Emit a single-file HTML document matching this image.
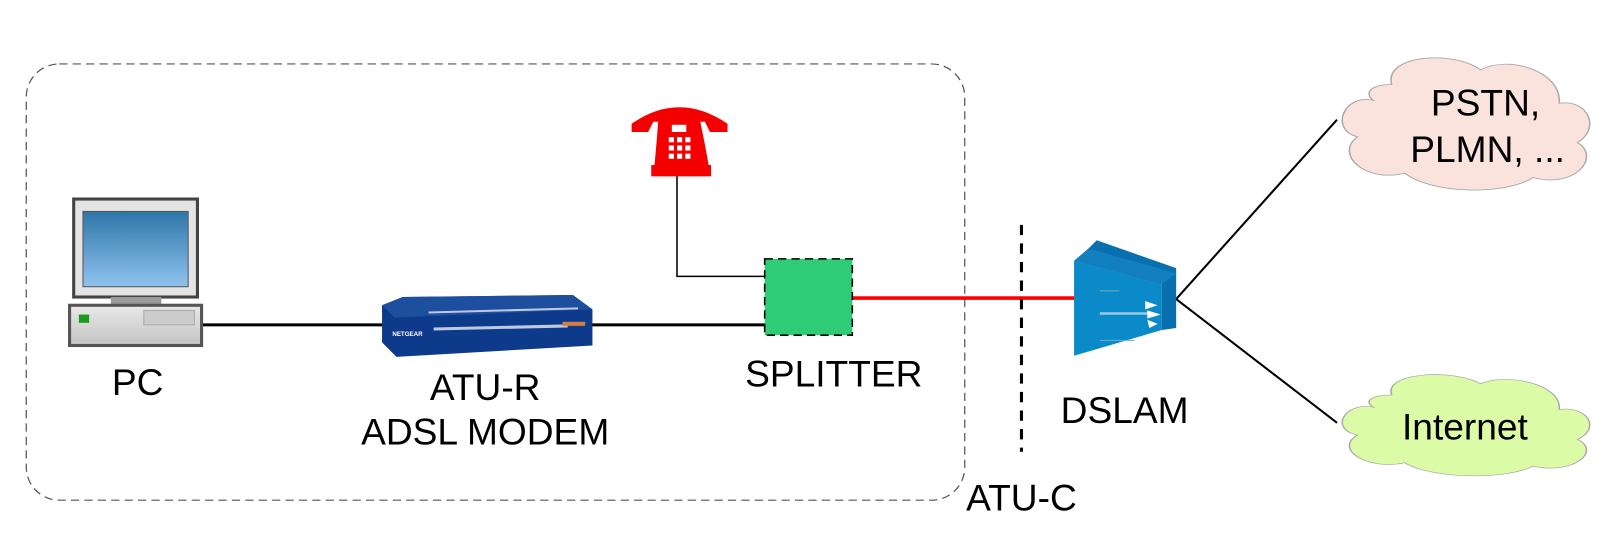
<!DOCTYPE html>
<html><head><meta charset="utf-8"><style>
html,body{margin:0;padding:0;background:#fff;}
svg{display:block;}
text{font-family:"Liberation Sans",Arial,sans-serif;fill:#000;}
</style></head><body>
<svg width="1617" height="560" viewBox="0 0 1567 543" xmlns="http://www.w3.org/2000/svg">
<defs>
<linearGradient id="scr" x1="0" y1="0" x2="0" y2="1"><stop offset="0" stop-color="#2e76a8"/><stop offset="1" stop-color="#8fc3ef"/></linearGradient>
<linearGradient id="box" x1="0" y1="0" x2="0" y2="1"><stop offset="0" stop-color="#e8e8e8"/><stop offset="1" stop-color="#c4c4c4"/></linearGradient>
<path id="cloud" d="M15,35 C4,30 -2,55 9,60 C0,72 12,92 27,85 C38,100 66,100 76,88 C92,96 102,74 93,64 C102,54 97,34 86,37 C87,14 66,4 56,14 C45,0 19,4 22,24 C15,24 11,29 15,35Z"/>
</defs>
<rect x="25" y="62" width="910" height="423" rx="32" fill="none" stroke="#555" stroke-width="1.2" stroke-dasharray="8,5"/>

<line x1="195" y1="315" x2="372" y2="315" stroke="#000" stroke-width="3"/>
<line x1="572" y1="315" x2="742" y2="315" stroke="#000" stroke-width="3"/>
<polyline points="656,170 656,268 742,268" fill="none" stroke="#000" stroke-width="1.5"/>
<line x1="826" y1="289" x2="1043" y2="289" stroke="#f00" stroke-width="3.5"/>
<line x1="990" y1="218" x2="990" y2="438" stroke="#000" stroke-width="3" stroke-dasharray="10,8"/>
<line x1="1140" y1="290" x2="1296" y2="116" stroke="#000" stroke-width="2"/>
<line x1="1140" y1="290" x2="1296" y2="410" stroke="#000" stroke-width="2"/>

<rect x="71" y="193" width="120" height="95" fill="#e4e4e4" stroke="#444" stroke-width="3"/>
<rect x="80" y="205" width="102" height="73" fill="url(#scr)" stroke="#555" stroke-width="1"/>
<rect x="107" y="288" width="49" height="8" fill="#999"/>
<rect x="67" y="296" width="128" height="39" fill="url(#box)" stroke="#555" stroke-width="3"/>
<rect x="76" y="305" width="10" height="8" fill="#1a9a1a"/>
<rect x="139" y="301" width="49" height="14" fill="#ccc" stroke="#aaa"/>

<polygon points="370,296 390,288 555,286 574,300 574,335 384,346 370,332" fill="#0d3a8a"/>
<polygon points="370,296 390,288 555,286 574,300 382,308" fill="#1e4e9e"/>
<line x1="415" y1="303" x2="560" y2="299" stroke="#c0c8e0" stroke-width="2"/>
<line x1="420" y1="319" x2="550" y2="316" stroke="#c0c8e0" stroke-width="3"/>
<text x="380" y="326" font-size="6" style="fill:#fff" font-weight="bold">NETGEAR</text>
<rect x="545" y="312" width="22" height="4" fill="#d08040"/>

<g fill="#f50000">
<path d="M612,120 Q658,88 705,120 L705,128 L688,128 L683,118 L633,118 L628,128 L612,128Z"/>
<path d="M638,115 L678,115 L683,140 L687,162 L634,162 L636,140Z"/>
<rect x="631" y="160" width="58" height="11"/>
</g>
<g fill="#fff">
<rect x="648" y="133" width="5" height="5"/><rect x="656" y="133" width="5" height="5"/><rect x="664" y="133" width="5" height="5"/>
<rect x="648" y="141" width="5" height="5"/><rect x="656" y="141" width="5" height="5"/><rect x="664" y="141" width="5" height="5"/>
<rect x="648" y="149" width="5" height="5"/><rect x="656" y="149" width="5" height="5"/><rect x="664" y="149" width="5" height="5"/>
<rect x="651" y="121" width="14" height="7"/>
</g>

<rect x="741" y="251" width="85" height="74" fill="#2ecc77" stroke="#000" stroke-width="1.5" stroke-dasharray="8,5"/>

<polygon points="1041,253 1041,345 1126,320 1126,276" fill="#0a8ac8"/>
<polygon points="1041,253 1055,241 1063,233 1140,260 1140,318 1126,320 1126,276" fill="#0a6fae"/>
<polygon points="1041,253 1055,241 1140,265 1126,276" fill="#1280bf"/>
<line x1="1066" y1="304" x2="1115" y2="304" stroke="#9ec9e0" stroke-width="2.5"/>
<line x1="1066" y1="282" x2="1085" y2="282" stroke="#7ab" stroke-width="1"/>
<line x1="1066" y1="330" x2="1100" y2="330" stroke="#7ab" stroke-width="1"/>
<polygon points="1110,292 1122,296 1110,300" fill="#fff"/>
<polygon points="1112,301 1125,305 1112,309" fill="#fff"/>
<polygon points="1112,310 1122,314 1114,318" fill="#fff"/>

<use href="#cloud" transform="translate(1293,48) scale(2.54,1.41)" fill="#f9e3dc" stroke="#aaa" stroke-width="0.6"/>
<use href="#cloud" transform="translate(1293,357) scale(2.54,1.08)" fill="#dbfba6" stroke="#aaa" stroke-width="0.6"/>

<g font-size="36" text-anchor="middle">
<text x="133" y="383">PC</text>
<text x="470" y="388">ATU-R</text>
<text x="470" y="431">ADSL MODEM</text>
<text x="808" y="375">SPLITTER</text>
<text x="1090" y="410">DSLAM</text>
<text x="990" y="495">ATU-C</text>
<text x="1440" y="112">PSTN,</text>
<text x="1442" y="157">PLMN, ...</text>
<text x="1420" y="426">Internet</text>
</g>
</svg>
</body></html>
